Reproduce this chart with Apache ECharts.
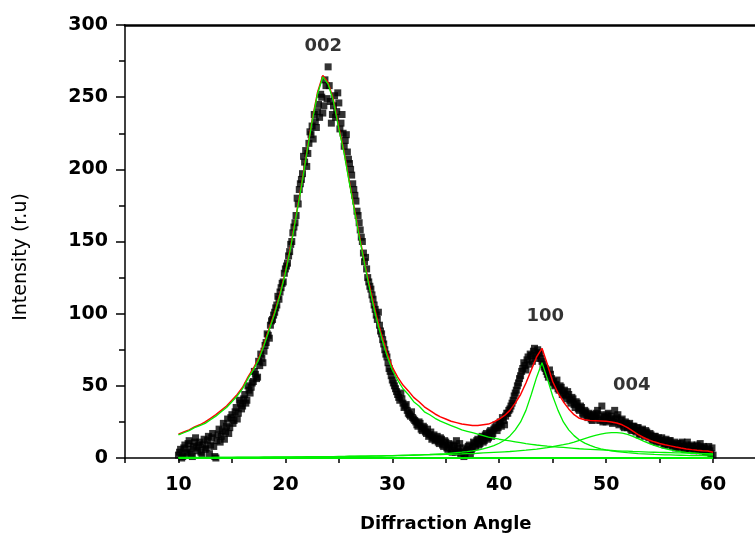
<!DOCTYPE html>
<html>
<head>
<meta charset="utf-8">
<script src="https://cdn.jsdelivr.net/npm/echarts@6/dist/echarts.min.js"></script>
<style>
  html, body { margin: 0; padding: 0; background: #fff; }
  #main { width: 755px; height: 533px; }
</style>
</head>
<body>
<div id="main"></div>
<script>
// measured points, 10.0 .. 60.0 every 0.2 deg
var scanStart = 10, scanStep = 0.2;
var scanCounts = [
  2, 6, 1, 9, 4, 12, 3, 8, 14, 5,
  11, 2, 13, 7, 15, 9, 17, 1, 12, 20,
  15, 24, 18, 27, 21, 30, 26, 35, 31, 38,
  36, 44, 40, 47, 49, 53, 58, 56, 64, 69,
  74, 80, 85, 92, 96, 101, 106, 110, 118, 122,
  131, 135, 143, 150, 160, 168, 176, 190, 197, 205,
  202, 218, 224, 221, 233, 240, 236, 250, 244, 258,
  271, 247, 238, 251, 240, 246, 232, 225, 220, 212,
  204, 196, 186, 178, 168, 158, 150, 136, 131, 122,
  117, 110, 103, 96, 92, 86, 79, 72, 66, 60,
  54, 50, 46, 42, 45, 38, 36, 33, 30, 32,
  27, 25, 22, 24, 19, 21, 17, 15, 18, 14,
  12, 15, 10, 13, 8, 11, 6, 9, 4, 8,
  12, 5, 3, 7, 2, 6, 9, 5, 11, 8,
  13, 10, 15, 12, 17, 14, 19, 17, 21, 19,
  24, 22, 26, 29, 31, 34, 38, 43, 47, 52,
  57, 62, 64, 68, 65, 71, 74, 69, 75, 72,
  67, 63, 60, 56, 58, 52, 50, 54, 47, 49,
  45, 43, 46, 40, 42, 37, 39, 34, 36, 31,
  33, 29, 31, 27, 30, 28, 33, 26, 36, 29,
  25, 31, 27, 24, 33, 28, 23, 26, 22, 25,
  21, 24, 19, 22, 18, 21, 17, 20, 15, 18,
  14, 16, 12, 15, 13, 11, 14, 10, 13, 9,
  12, 8, 11, 9, 7, 10, 8, 6, 11, 7,
  9, 5, 8, 6, 10, 5, 7, 4, 8, 3,
  2
];
// second pass, 10.1 .. 59.9 every 0.2 deg
var scanStart2 = 10.1;
var scanCounts2 = [
  4, 0, 7, 3, 10, 6, 1, 11, 7, 9,
  4, 9, 6, 12, 3, 14, 8, 0, 16, 11,
  19, 13, 22, 17, 28, 24, 32, 27, 40, 34,
  41, 38, 50, 45, 52, 60, 55, 67, 72, 66,
  78, 86, 83, 95, 99, 104, 112, 115, 121, 128,
  133, 140, 148, 156, 163, 180, 186, 193, 209, 213,
  211, 226, 230, 238, 229, 245, 252, 239, 262, 249,
  258, 232, 244, 236, 253, 228, 238, 216, 224, 207,
  200, 190, 182, 171, 163, 153, 142, 139, 125, 119,
  113, 106, 99, 101, 88, 82, 75, 70, 62, 57,
  52, 48, 44, 40, 41, 35, 37, 31, 29, 28,
  26, 23, 25, 20, 22, 18, 20, 16, 13, 16,
  13, 11, 14, 9, 12, 7, 10, 5, 9, 4,
  7, 10, 4, 1, 5, 8, 3, 7, 10, 12,
  9, 14, 11, 16, 13, 18, 15, 20, 23, 21,
  25, 28, 23, 31, 33, 36, 40, 45, 50, 55,
  60, 66, 61, 70, 72, 67, 76, 71, 73, 69,
  65, 62, 58, 61, 55, 53, 51, 48, 50, 44,
  47, 41, 44, 38, 41, 35, 38, 33, 35, 30,
  32, 28, 30, 26, 29, 31, 27, 30, 25, 28,
  30, 26, 29, 25, 27, 30, 24, 27, 21, 24,
  23, 20, 22, 19, 21, 16, 19, 17, 19, 16,
  17, 13, 15, 11, 14, 12, 12, 9, 11, 12,
  10, 9, 7, 10, 8, 11, 6, 9, 8, 6,
  8, 6, 9, 5, 7, 8, 4, 6, 5, 7
];

// fitted curves, 10.0 .. 60.0 every 0.5 deg
var fitStart = 10, fitStep = 0.5;
var fitTotal = [
  16.5, 18, 19.5, 21.5, 23, 25, 27.5, 30, 33, 36,
  40, 44, 49, 56, 62, 69, 79, 90, 101, 114,
  129, 147, 168, 189, 212, 234, 253, 265, 260, 248,
  229, 212, 191, 171, 151, 132, 115, 99, 85, 73,
  63, 56, 50.5, 46.5, 42, 39, 35.5, 33, 30.5, 28.5,
  27, 25.5, 24.5, 23.5, 23, 22.5, 22.5, 23, 23.5, 25,
  27, 29.5, 33, 38, 44, 52, 61, 70, 76, 65,
  53, 45, 39, 34, 30, 27.5, 26.5, 26, 25.8, 25.6,
  25.4, 25, 24.3, 23, 21, 18.6, 16.2, 14.2, 12.5, 11.2,
  10.1, 9.2, 8.4, 7.6, 6.9, 6.3, 5.8, 5.4, 5.1, 4.9,
  4
];
var fit002 = [
  16, 17.5, 19, 21, 22.5, 24, 26.5, 29, 32, 35,
  39, 43, 48, 55, 61, 68, 78, 89, 100, 113,
  128, 146, 167, 188, 211, 233, 252, 264, 259, 247,
  228, 211, 190, 170, 150, 131, 113, 97, 83, 71,
  61, 54, 48, 44, 39, 36, 32, 30, 27.5, 25.5,
  24, 22.5, 21, 19.5, 18.5, 17.5, 16.5, 15.5, 14.5, 13.8,
  13, 12.4, 11.8, 11.2, 10.6, 10, 9.5, 9, 8.6, 8.2,
  7.9, 7.6, 7.3, 7, 6.7, 6.4, 6.2, 6, 5.8, 5.6,
  5.4, 5.2, 5, 4.8, 4.7, 4.5, 4.4, 4.3, 4.1, 4,
  3.9, 3.8, 3.7, 3.6, 3.5, 3.4, 3.3, 3.2, 3.1, 3.0,
  2.9
];
var fit100 = [
  0.4, 0.4, 0.4, 0.4, 0.5, 0.5, 0.5, 0.5, 0.5, 0.5,
  0.5, 0.6, 0.6, 0.6, 0.6, 0.6, 0.7, 0.7, 0.7, 0.7,
  0.8, 0.8, 0.8, 0.8, 0.9, 0.9, 0.9, 1, 1, 1,
  1.1, 1.1, 1.2, 1.2, 1.3, 1.3, 1.4, 1.5, 1.5, 1.6,
  1.7, 1.8, 1.9, 2, 2.1, 2.2, 2.4, 2.5, 2.7, 2.9,
  3.1, 3.4, 3.7, 4, 4.4, 4.9, 5.5, 6.3, 7.3, 8.6,
  10.2, 12.3, 15.3, 19.5, 25, 33, 44, 56, 66, 55,
  43, 33, 25, 19.5, 15.5, 12.5, 10.3, 8.7, 7.4, 6.4,
  5.6, 5, 4.5, 4.1, 3.7, 3.4, 3.1, 2.9, 2.7, 2.5,
  2.4, 2.2, 2.1, 2, 1.9, 1.8, 1.7, 1.6, 1.6, 1.5,
  1.5
];
var fit004 = [
  0.3, 0.3, 0.3, 0.3, 0.3, 0.3, 0.3, 0.4, 0.4, 0.4,
  0.4, 0.4, 0.4, 0.5, 0.5, 0.5, 0.5, 0.5, 0.6, 0.6,
  0.6, 0.6, 0.7, 0.7, 0.7, 0.8, 0.8, 0.8, 0.9, 0.9,
  1, 1, 1.1, 1.1, 1.2, 1.2, 1.3, 1.3, 1.4, 1.5,
  1.5, 1.6, 1.7, 1.8, 1.9, 2, 2.1, 2.2, 2.3, 2.4,
  2.5, 2.6, 2.7, 2.8, 3, 3.1, 3.3, 3.5, 3.7, 3.9,
  4.1, 4.3, 4.5, 4.8, 5.1, 5.4, 5.8, 6.2, 6.7, 7.2,
  7.8, 8.5, 9.2, 10, 11, 12.2, 13.4, 14.6, 15.7, 16.6,
  17.2, 17.6, 17.6, 17.2, 16.3, 15, 13.4, 11.7, 10.1, 8.7,
  7.5, 6.5, 5.7, 5, 4.4, 3.9, 3.5, 3.2, 2.9, 2.7,
  2.5
];
var baseAngles = [10, 60];
var baseLevel = [0, 0];

// peak labels
var peakNames = ['002', '100', '004'];
var peakAngles = [23.55, 44.3, 52.4];
var peakHeights = [285, 98, 50.6];

function pairs(start, step, ys) {
  var out = [];
  for (var i = 0; i < ys.length; i++) {
    out.push([+(start + i * step).toFixed(2), ys[i]]);
  }
  return out;
}

var scanData = pairs(scanStart, scanStep, scanCounts).concat(pairs(scanStart2, scanStep, scanCounts2));
var baseData = baseAngles.map(function (a, i) { return [a, baseLevel[i]]; });
var labelData = peakNames.map(function (n, i) { return { name: n, value: [peakAngles[i], peakHeights[i]] }; });

var chart = echarts.init(document.getElementById('main'));
var green = '#00f000', red = '#ff0000';
var fontFam = '"DejaVu Sans", sans-serif';

var option = {
  animation: false,
  backgroundColor: '#fff',
  grid: { left: 125, right: -11.5, top: 25, bottom: 75, outerBoundsMode: 'none' },
  xAxis: [{
    type: 'value', min: 5, max: 65, interval: 5,
    name: 'Diffraction Angle', nameLocation: 'middle', nameGap: 57,
    nameTextStyle: { fontFamily: fontFam, fontWeight: 'bold', fontSize: 18, color: '#000' },
    axisLine: { onZero: false, lineStyle: { color: '#000', width: 1.5 } },
    axisTick: { inside: false, length: 5, lineStyle: { color: '#000', width: 1.5 } },
    axisLabel: {
      margin: 18, color: '#000', fontFamily: fontFam, fontWeight: 'bold', fontSize: 19,
      formatter: function (v) { return v % 10 === 0 ? String(v) : ''; }
    },
    splitLine: { show: false }
  }, {
    type: 'value', position: 'top', min: 5, max: 65,
    axisLine: { show: true, onZero: false, lineStyle: { color: '#000', width: 2.5 } },
    axisTick: { show: false }, axisLabel: { show: false }, splitLine: { show: false }
  }],
  yAxis: {
    type: 'value', min: 0, max: 300, interval: 50,
    name: 'Intensity (r.u)', nameLocation: 'middle', nameGap: 94,
    nameTextStyle: { fontFamily: fontFam, fontSize: 19, color: '#000', padding: [0, 31, 0, 0] },
    axisLine: { show: true, onZero: false, lineStyle: { color: '#000', width: 1.5 } },
    axisTick: { length: 9, lineStyle: { color: '#000', width: 1.5 } },
    minorTick: { show: true, splitNumber: 2, length: 6, lineStyle: { color: '#000', width: 1.5 } },
    axisLabel: { margin: 17, color: '#000', fontFamily: fontFam, fontWeight: 'bold', fontSize: 19 },
    splitLine: { show: false }
  },
  series: [
    {
      name: 'data', type: 'scatter', symbol: 'rect', symbolSize: 7,
      itemStyle: { color: '#000' }, data: scanData, z: 2
    },
    {
      name: 'fit', type: 'line', showSymbol: false, data: pairs(fitStart, fitStep, fitTotal),
      lineStyle: { color: red, width: 1.5 }, z: 3
    },
    {
      name: '002', type: 'line', showSymbol: false, data: pairs(fitStart, fitStep, fit002),
      lineStyle: { color: green, width: 1.3 }, z: 4
    },
    {
      name: '100', type: 'line', showSymbol: false, data: pairs(fitStart, fitStep, fit100),
      lineStyle: { color: green, width: 1.3 }, z: 4
    },
    {
      name: '004', type: 'line', showSymbol: false, data: pairs(fitStart, fitStep, fit004),
      lineStyle: { color: green, width: 1.3 }, z: 4
    },
    {
      name: 'base', type: 'line', showSymbol: false, data: baseData,
      lineStyle: { color: green, width: 2 }, z: 4
    },
    {
      name: 'labels', type: 'scatter', symbolSize: 0, data: labelData, z: 5,
      label: {
        show: true, position: 'inside', formatter: '{b}', color: '#000',
        fontFamily: fontFam, fontWeight: 'bold', fontSize: 18
      }
    }
  ]
};

chart.setOption(option);
</script>
</body>
</html>
